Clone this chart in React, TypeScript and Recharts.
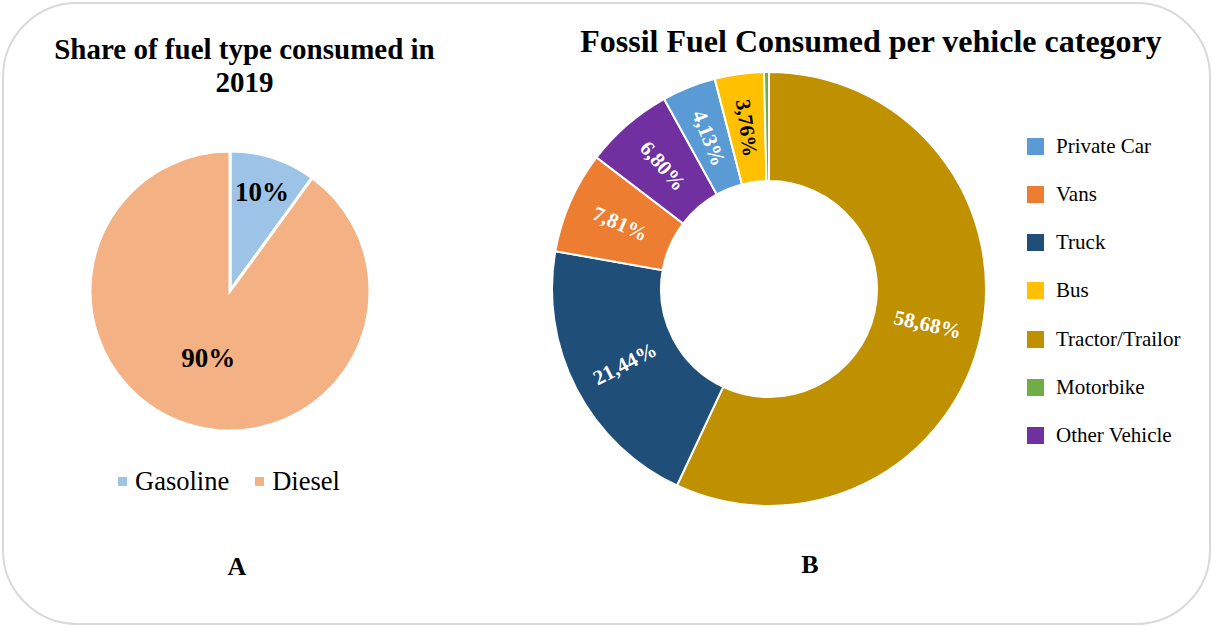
import React from 'react';
import { PieChart, Pie, Cell } from 'recharts';

// Chart A: share of fuel type consumed in 2019
const fuelTypes = ['Gasoline', 'Diesel'];
const fuelShares = [10, 90];
const fuelColors = ['#9DC3E6', '#F4B183'];

// Chart B: fossil fuel consumed per vehicle category (drawing order, clockwise from top)
const vehicleCategories = ['Tractor/Trailor', 'Truck', 'Vans', 'Other Vehicle', 'Private Car', 'Bus', 'Motorbike'];
const vehicleShares = [58.68, 21.44, 7.81, 6.8, 4.13, 3.76, 0.38];
const legendOrder = ['Private Car', 'Vans', 'Truck', 'Bus', 'Tractor/Trailor', 'Motorbike', 'Other Vehicle'];
const vehicleColors: Record<string, string> = {
  'Private Car': '#5B9BD5',
  Vans: '#ED7D31',
  Truck: '#1F4E79',
  Bus: '#FFC000',
  'Tractor/Trailor': '#BF9000',
  Motorbike: '#70AD47',
  'Other Vehicle': '#7030A0',
};

const fuelData = fuelTypes.map((name, i) => ({ name, value: fuelShares[i] }));
const vehicleData = vehicleCategories.map((name, i) => ({ name, value: vehicleShares[i] }));

const SERIF = '"Liberation Serif", "Times New Roman", serif';
const RAD = Math.PI / 180;

const renderFuelLabel = (props: any) => {
  const { cx, cy, midAngle, outerRadius, index, value } = props;
  // gasoline label sits further out than diesel
  const r = outerRadius * (index === 0 ? 0.74 : 0.5);
  const x = cx + r * Math.cos(-midAngle * RAD);
  const y = cy + r * Math.sin(-midAngle * RAD);
  return (
    <text x={x} y={y} textAnchor="middle" dominantBaseline="central" fill="#000" fontFamily={SERIF} fontWeight="bold" fontSize={27}>
      {value}%
    </text>
  );
};

const renderVehicleLabel = (props: any) => {
  const { cx, cy, midAngle, innerRadius, outerRadius, index, value } = props;
  const name = vehicleCategories[index];
  if (name === 'Motorbike') return null;
  const r = (innerRadius + outerRadius) / 2;
  const x = cx + r * Math.cos(-midAngle * RAD);
  const y = cy + r * Math.sin(-midAngle * RAD);
  // radial text, flipped on the left half so it stays readable
  let rot = -midAngle;
  if (Math.cos(midAngle * RAD) < 0) rot += 180;
  return (
    <text
      x={x}
      y={y}
      transform={`rotate(${rot} ${x} ${y})`}
      textAnchor="middle"
      dominantBaseline="central"
      fill={name === 'Bus' ? '#000' : '#fff'}
      fontFamily={SERIF}
      fontWeight="bold"
      fontSize={21}
    >
      {value.toFixed(2).replace('.', ',')}%
    </text>
  );
};

export default function App() {
  return (
    <div style={{ position: 'absolute', left: 0, top: 0, width: 1212, height: 626, fontFamily: SERIF, background: '#fff' }}>
      <div
        style={{
          position: 'absolute',
          left: 2,
          top: 2,
          width: 1205,
          height: 619,
          border: '2px solid #D9D9D9',
          borderRadius: 75,
        }}
      />
      <PieChart width={1212} height={626} margin={{ top: 0, right: 0, bottom: 0, left: 0 }} style={{ position: 'absolute', left: 0, top: 0 }}>
        <Pie
          data={fuelData}
          dataKey="value"
          cx={230}
          cy={291}
          outerRadius={140}
          startAngle={90}
          endAngle={-270}
          stroke="#fff"
          strokeWidth={3}
          label={renderFuelLabel}
          labelLine={false}
          isAnimationActive={false}
        >
          {fuelData.map((d, i) => (
            <Cell key={d.name} fill={fuelColors[i]} />
          ))}
        </Pie>
        <Pie
          data={vehicleData}
          dataKey="value"
          cx={769}
          cy={289}
          innerRadius={108}
          outerRadius={217}
          startAngle={90}
          endAngle={-270}
          stroke="#fff"
          strokeWidth={2}
          label={renderVehicleLabel}
          labelLine={false}
          isAnimationActive={false}
        >
          {vehicleData.map(d => (
            <Cell key={d.name} fill={vehicleColors[d.name]} />
          ))}
        </Pie>
      </PieChart>

      {/* titles */}
      <div style={{ position: 'absolute', left: 0, top: 33, width: 489, textAlign: 'center', fontWeight: 'bold', fontSize: 29, lineHeight: '33px' }}>
        Share of fuel type consumed in
        <br />
        2019
      </div>
      <div style={{ position: 'absolute', left: 521, top: 21, width: 700, textAlign: 'center', fontWeight: 'bold', fontSize: 32, lineHeight: '40px' }}>
        Fossil Fuel Consumed per vehicle category
      </div>

      {/* legend A */}
      <div style={{ position: 'absolute', left: 118, top: 466, height: 30, display: 'flex', alignItems: 'center', fontSize: 26.5 }}>
        {fuelTypes.map((name, i) => (
          <div key={name} style={{ display: 'flex', alignItems: 'center', marginRight: 26 }}>
            <span style={{ width: 9, height: 9, background: fuelColors[i], marginRight: 8 }} />
            <span>{name}</span>
          </div>
        ))}
      </div>

      {/* legend B */}
      {legendOrder.map((name, i) => (
        <div
          key={name}
          style={{ position: 'absolute', left: 1027, top: 146 + i * 48.3 - 14, height: 28, display: 'flex', alignItems: 'center', fontSize: 21 }}
        >
          <span style={{ width: 17, height: 17, background: vehicleColors[name], marginRight: 12 }} />
          <span>{name}</span>
        </div>
      ))}

      {/* panel letters */}
      <div style={{ position: 'absolute', left: 187, top: 550, width: 100, textAlign: 'center', fontWeight: 'bold', fontSize: 26, lineHeight: '34px' }}>A</div>
      <div style={{ position: 'absolute', left: 760, top: 548, width: 100, textAlign: 'center', fontWeight: 'bold', fontSize: 26, lineHeight: '34px' }}>B</div>
    </div>
  );
}
